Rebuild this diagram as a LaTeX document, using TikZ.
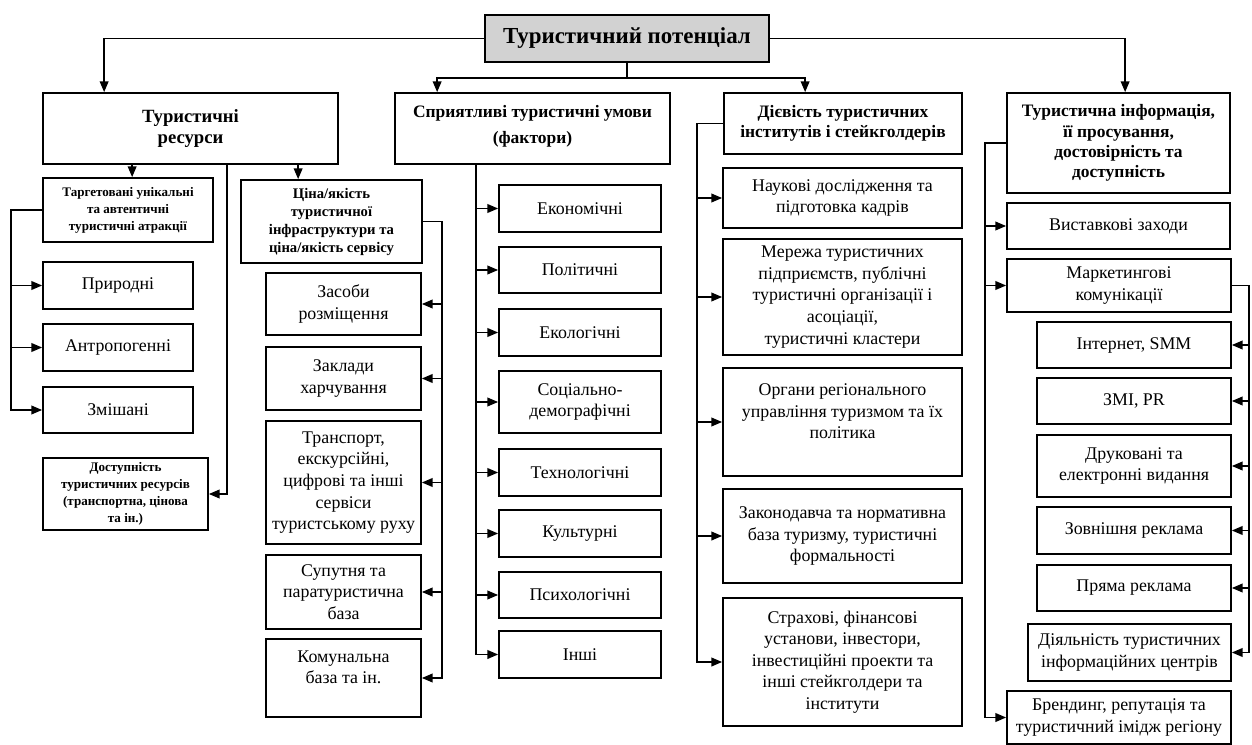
\documentclass[tikz,border=0pt]{standalone}
\usepackage{fontspec}
\setmainfont{Liberation Serif}
\usetikzlibrary{arrows.meta,calc}
\newcommand\bx[7][box]{\node[#1, minimum width={(#4-#2)*0.75pt}, minimum height={(#5-#3)*0.75pt}] (#6) at ({(#2+#4)/2},{(#3+#5)/2}) {#7};}
\begin{document}
\begin{tikzpicture}[x=0.75pt,y=-0.75pt,
 box/.style={draw, line width=1.3pt, inner sep=0pt, align=center, font=\fontsize{13.4}{16.2}\selectfont},
 hbox/.style={box, font=\bfseries\fontsize{13.1}{15.2}\selectfont},
 sbox/.style={box, font=\bfseries\fontsize{9.8}{12.8}\selectfont},
 mbox/.style={box, font=\bfseries\fontsize{11}{13.5}\selectfont},
 tbox/.style={box, fill=gray!35, font=\bfseries\fontsize{17.2}{20}\selectfont},
 arr/.style={line width=1.1pt, -{Triangle[length=8pt,width=6.5pt]}},
 ln/.style={line width=1.1pt}]
\path[use as bounding box] (0,0) rectangle (1252,745);

% top
\bx[tbox]{485}{15}{769}{62}{main}{Туристичний потенціал}

\bx[hbox, font=\bfseries\fontsize{14}{15.5}\selectfont]{43}{93}{338}{164}{res}{Туристичні\\ресурси}
\bx[hbox]{395}{93}{670}{164}{cond}{Сприятливі туристичні умови\\[4pt](фактори)\\[-9pt]\mbox{}}
\bx[hbox]{724}{93}{962}{154}{inst}{Дієвість туристичних\\інститутів і стейкголдерів}
\bx[hbox]{1007}{93}{1230}{193}{info}{Туристична інформація,\\її просування,\\достовірність та\\доступність}

% resources
\bx[sbox]{43}{178}{213}{242}{tar}{Таргетовані унікальні\\та автентичні\\туристичні атракції}
\bx[mbox]{241}{180}{422}{263}{price}{Ціна/якість\\туристичної\\інфраструктури та\\ціна/якість сервісу}
\bx[sbox]{43}{458}{208}{530}{acc}{Доступність\\туристичних ресурсів\\(транспортна, цінова\\та ін.)}
\bx{43}{262}{193}{309}{nat}{Природні}
\bx{43}{324}{193}{371}{anth}{Антропогенні}
\bx{43}{387}{193}{433}{mix}{Змішані}

\bx{266}{273}{421}{335}{acm}{Засоби\\розміщення}
\bx{266}{347}{421}{410}{food}{Заклади\\харчування}
\bx{266}{421}{421}{544}{trans}{Транспорт,\\екскурсійні,\\цифрові та інші\\сервіси\\туристському руху}
\bx{266}{555}{421}{629}{para}{Супутня та\\паратуристична\\база}
\bx{266}{639}{421}{717}{comm}{Комунальна\\база та ін.\\\mbox{}}

% conditions
\bx{499}{185}{661}{232}{econ}{Економічні}
\bx{499}{247}{661}{293}{pol}{Політичні}
\bx{499}{309}{661}{356}{eco}{Екологічні}
\bx{499}{371}{661}{433}{soc}{Соціально-\\демографічні}
\bx{499}{449}{661}{496}{tech}{Технологічні}
\bx{499}{510}{661}{557}{cult}{Культурні}
\bx{499}{572}{661}{618}{psy}{Психологічні}
\bx{499}{631}{661}{678}{oth}{Інші}

% institutions
\bx{723}{168}{962}{228}{sci}{Наукові дослідження та\\підготовка кадрів}
\bx{723}{239}{962}{355}{net}{Мережа туристичних\\підприємств, публічні\\туристичні організації і\\асоціації,\\туристичні кластери}
\bx{723}{368}{962}{476}{org}{Органи регіонального\\управління туризмом та їх\\політика\\\mbox{}}
\bx{723}{489}{962}{583}{law}{Законодавча та нормативна\\база туризму, туристичні\\формальності}
\bx{723}{598}{962}{726}{fin}{Страхові, фінансові\\установи, інвестори,\\інвестиційні проекти та\\інші стейкголдери та\\інститути}

% information
\bx{1007}{203}{1230}{249}{exh}{Виставкові заходи}
\bx{1007}{259}{1231}{312}{mkt}{Маркетингові\\комунікації}
\bx{1037}{322}{1231}{368}{int}{Інтернет, SMM}
\bx{1037}{378}{1231}{424}{smi}{ЗМІ, PR}
\bx{1037}{435}{1231}{497}{print}{Друковані та\\електронні видання}
\bx{1037}{507}{1231}{554}{outd}{Зовнішня реклама}
\bx{1037}{565}{1231}{611}{dir}{Пряма реклама}
\bx{1028}{624}{1231}{681}{tic}{Діяльність туристичних\\інформаційних центрів}
\bx{1007}{691}{1231}{744}{brand}{Брендинг, репутація та\\туристичний імідж регіону}

% connectors from main
\draw[arr] (main.west) -| ($(res.north west)+(62,0)$);
\draw[arr] (main.east) -| ($(info.north west)+(119,0)$);
\draw[ln] (main.south) -- ++(0,15) coordinate (mj);
\draw[arr] (mj) -| ($(cond.north west)+(43,0)$);
\draw[arr] (mj) -| ($(inst.north west)+(82,0)$);

% resources
\draw[arr] ($(res.south west)+(90,0)$) -- ($(tar.north west)+(90,0)$);
\draw[arr] ($(res.south west)+(256,0)$) -- ($(price.north west)+(58,0)$);
\draw[arr] ($(res.south west)+(185,0)$) |- (acc.east);
\foreach \n in {nat,anth,mix} \draw[arr] (tar.west) -- ++(-31,0) |- (\n.west);
\foreach \n in {acm,food,trans,para,comm} \draw[arr] (price.east) -- ++(19,0) |- (\n.east);

% conditions
\foreach \n in {econ,pol,eco,soc,tech,cult,psy,oth} \draw[arr] ($(cond.south west)+(82,0)$) |- (\n.west);

% institutions
\foreach \n in {sci,net,org,law,fin} \draw[arr] (inst.west) -- ++(-26,0) |- (\n.west);

% information
\foreach \n in {exh,mkt,brand} \draw[arr] (info.west) -- ++(-21,0) |- (\n.west);
\foreach \n in {int,smi,print,outd,dir,tic} \draw[arr] (mkt.east) -- ++(17,0) |- (\n.east);
\end{tikzpicture}
\end{document}
